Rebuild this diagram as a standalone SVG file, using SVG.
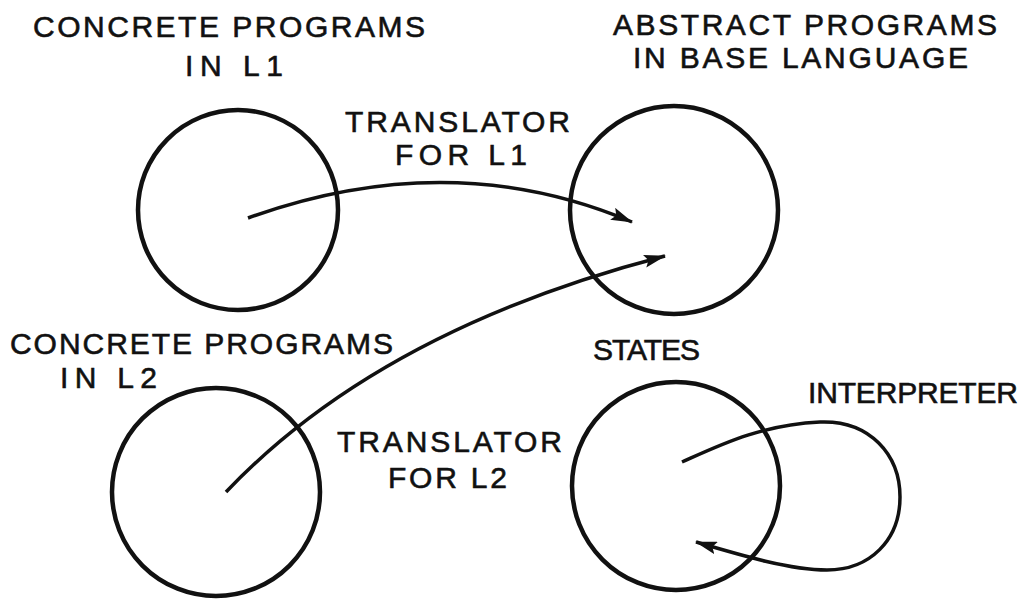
<svg xmlns="http://www.w3.org/2000/svg" width="1028" height="605" viewBox="0 0 1028 605">
<style>
.t{font-family:"Liberation Sans",Arial,sans-serif;font-size:30px;fill:#111;stroke:#111;stroke-width:0.6;}
.c{fill:none;stroke:#111;stroke-width:4.5;}
.e{fill:none;stroke:#111;stroke-width:3.5;}
</style>
<defs>
<marker id="ah" viewBox="0 0 22 13" refX="21" refY="6.5" markerWidth="22" markerHeight="13" markerUnits="userSpaceOnUse" orient="auto">
<path d="M0,0 L22,6.5 L0,13 L4,6.5 Z" fill="#111"/>
</marker>
</defs>
<rect width="1028" height="605" fill="#fff"/>
<g id="concrete-l1">
<circle class="c" cx="238" cy="210" r="100"/>
<text class="t" x="33" y="37" textLength="392" lengthAdjust="spacing">CONCRETE PROGRAMS</text>
<text class="t" x="185" y="76" textLength="98" lengthAdjust="spacing">IN L1</text>
</g>
<g id="abstract">
<circle class="c" cx="674" cy="210" r="104"/>
<text class="t" x="613" y="35" textLength="384" lengthAdjust="spacing">ABSTRACT PROGRAMS</text>
<text class="t" x="633" y="68" textLength="335" lengthAdjust="spacing">IN BASE LANGUAGE</text>
</g>
<g id="concrete-l2">
<circle class="c" cx="216" cy="492" r="104"/>
<text class="t" x="10" y="354" textLength="383" lengthAdjust="spacing">CONCRETE PROGRAMS</text>
<text class="t" x="60" y="388" textLength="97" lengthAdjust="spacing">IN L2</text>
</g>
<g id="states">
<circle class="c" cx="676" cy="486" r="104"/>
<text class="t" x="593" y="360" textLength="107" lengthAdjust="spacing">STATES</text>
</g>
<g id="connectors">
<path class="e" d="M248,218 Q450,145 632,222" marker-end="url(#ah)"/>
<path class="e" d="M226,492 Q380,330 665,256" marker-end="url(#ah)"/>
<path class="e" d="M682,462 C720,445 760,425 820,422 C870,420 900,455 900,497 C900,540 870,570 827,570 C790,570 740,555 696,542" marker-end="url(#ah)"/>
<text class="t" x="345" y="132" textLength="225" lengthAdjust="spacing">TRANSLATOR</text>
<text class="t" x="395" y="165" textLength="132" lengthAdjust="spacing">FOR L1</text>
<text class="t" x="337" y="452" textLength="225" lengthAdjust="spacing">TRANSLATOR</text>
<text class="t" x="388" y="488" textLength="119" lengthAdjust="spacing">FOR L2</text>
<text class="t" x="808" y="403" textLength="210" lengthAdjust="spacing">INTERPRETER</text>
</g>
</svg>
